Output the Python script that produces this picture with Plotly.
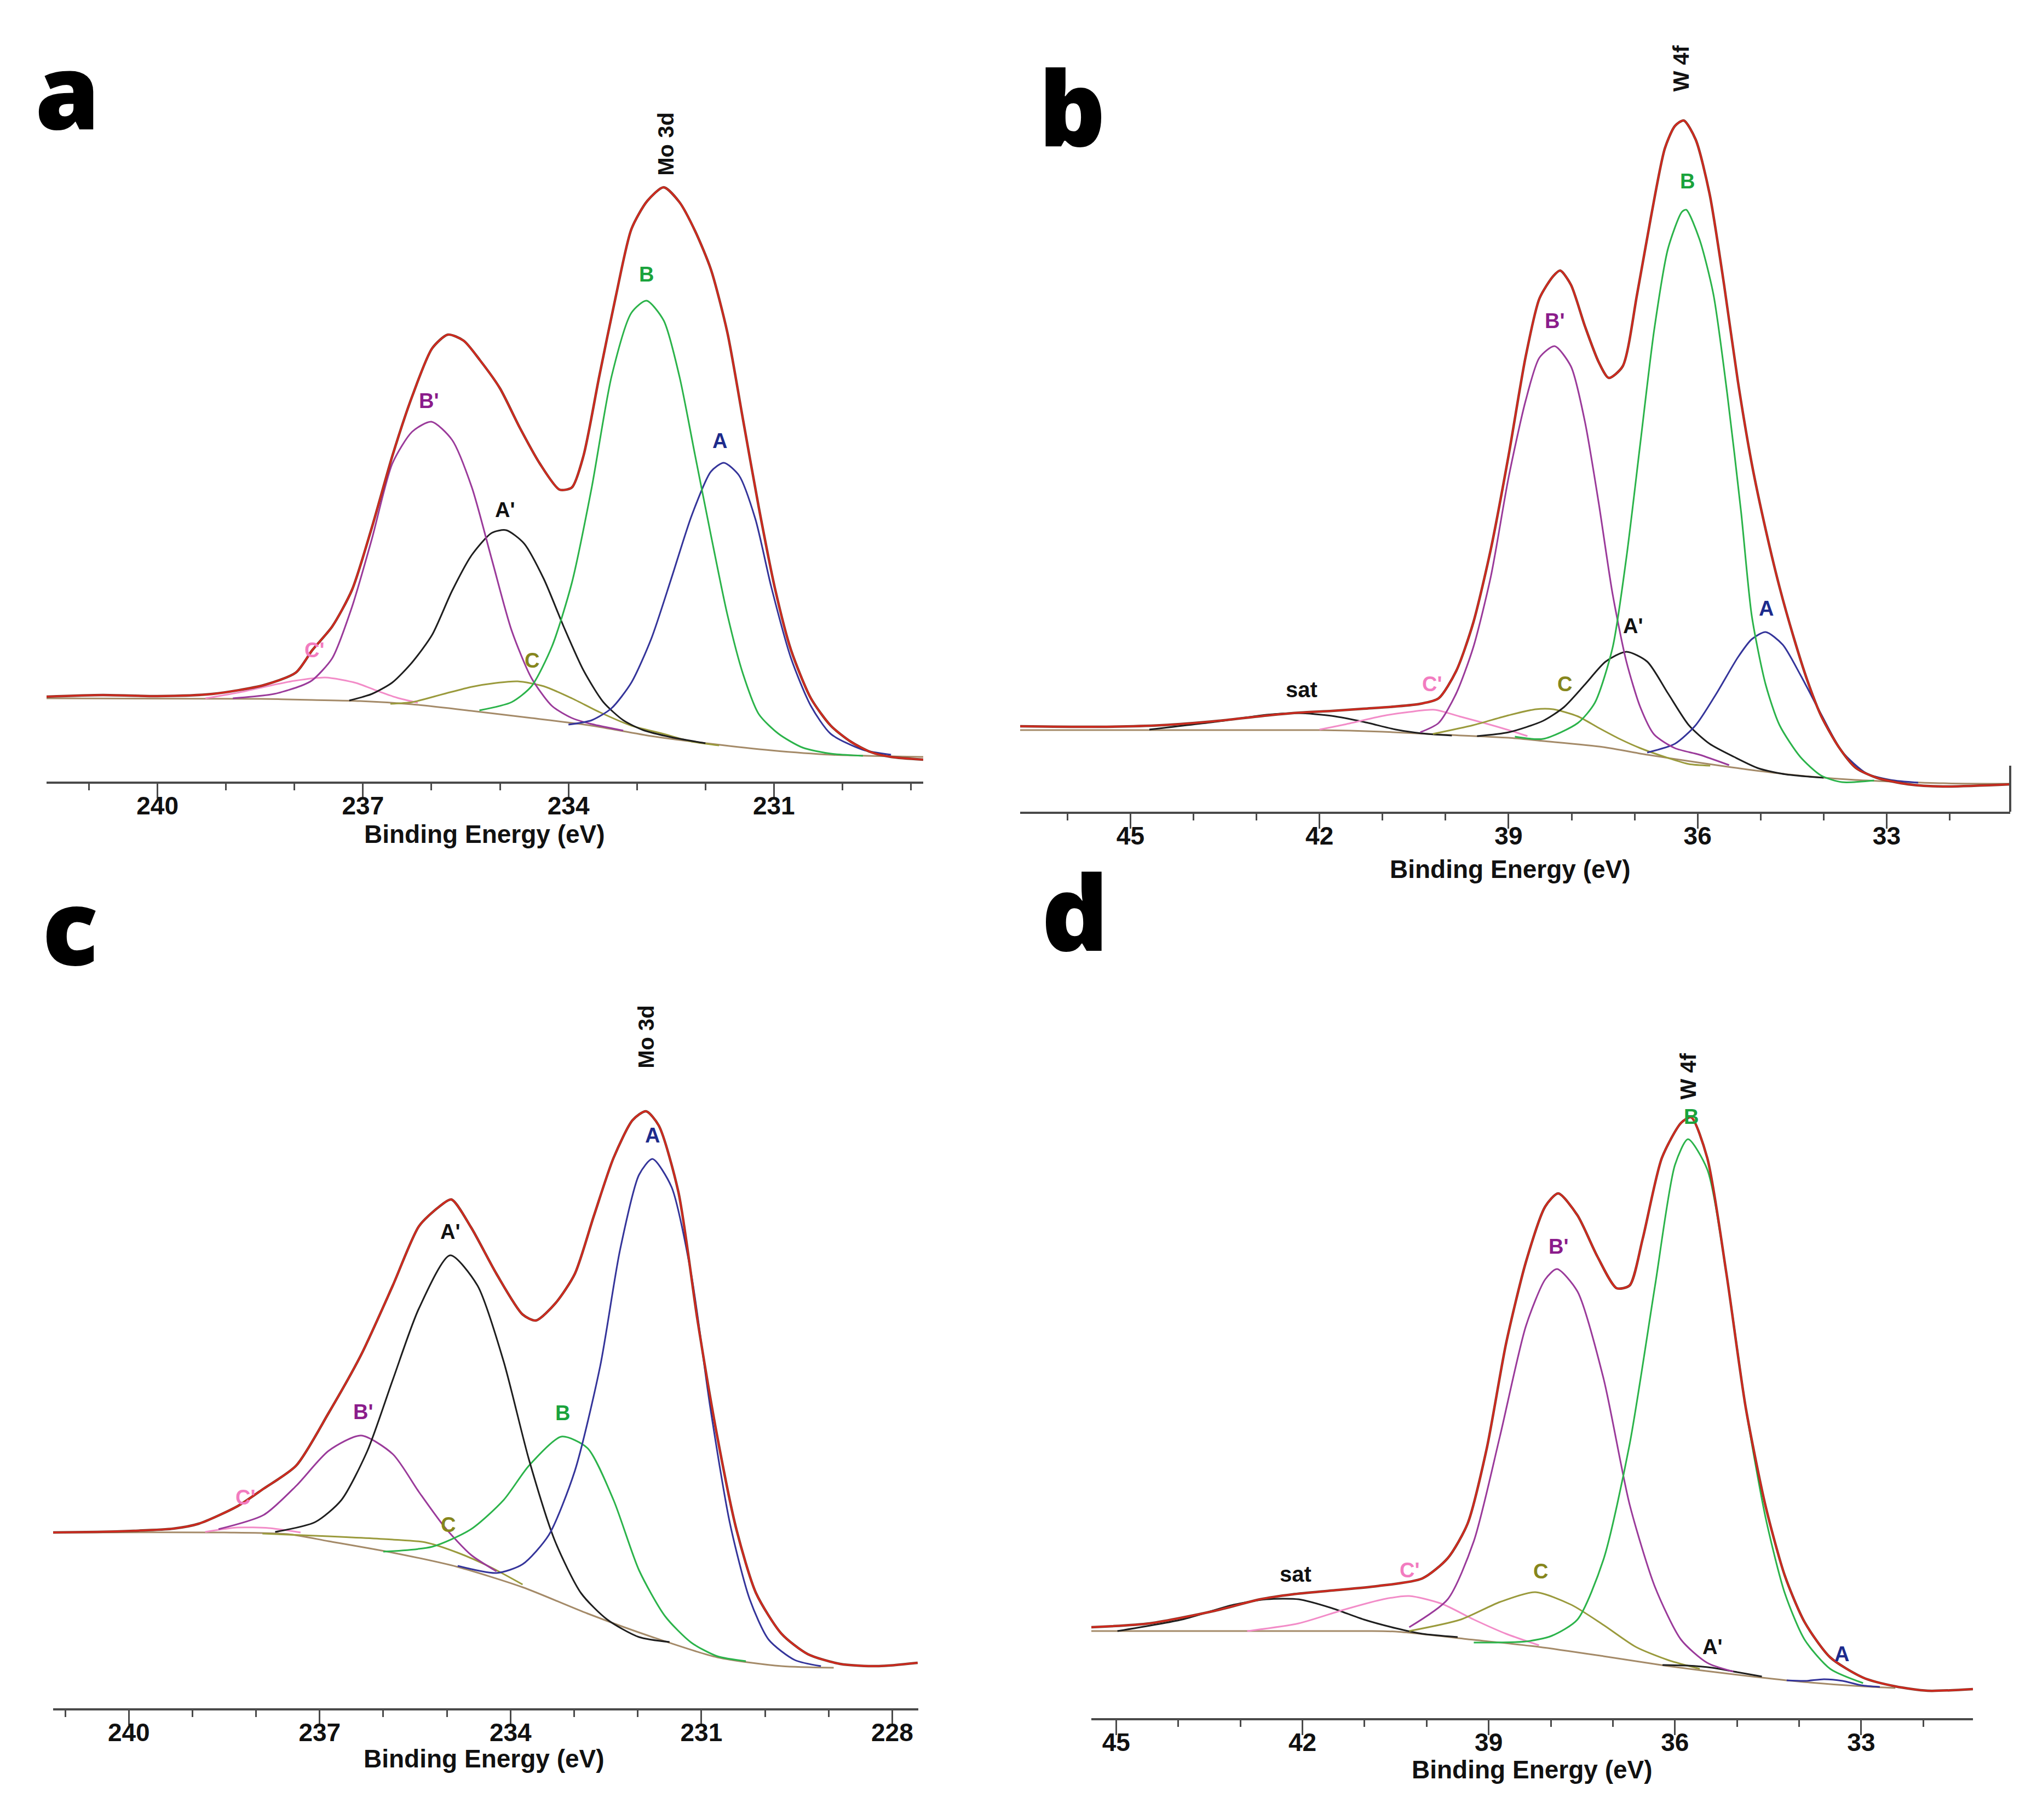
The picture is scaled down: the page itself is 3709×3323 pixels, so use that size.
import plotly.graph_objects as go

W, H = 3709, 3323

# ---------------- Panel a (Mo 3d) ----------------
A_ENV_EV = [241.62, 240.8, 240.0, 239.2, 238.45, 237.98, 237.74, 237.45, 237.16, 236.87, 236.57, 236.28, 235.99, 235.76, 235.53, 235.29, 235.0, 234.71, 234.42, 234.13, 233.95, 233.78, 233.55, 233.31, 233.08, 232.85, 232.61, 232.38, 232.15, 231.92, 231.68, 231.45, 231.22, 230.98, 230.75, 230.46, 230.17, 229.88, 229.59, 229.29, 228.82]
A_ENV_I = [155, 158, 156, 160, 176, 199, 240, 283, 350, 464, 595, 704, 791, 816, 805, 769, 718, 646, 581, 533, 537, 595, 740, 885, 1009, 1060, 1085, 1058, 1005, 935, 820, 660, 500, 350, 240, 152, 102, 73, 54, 45, 40]
A_BL_EV = [241.62, 238.5, 237.74, 237.04, 236.28, 235.41, 234.54, 233.66, 232.79, 231.92, 231.04, 230.17, 228.82]
A_BL_I = [152, 151, 149, 147, 141, 129, 116, 102, 83, 69, 57, 49, 45]
A_Bp_EV = [238.9, 238.3, 237.9, 237.74, 237.45, 237.16, 236.87, 236.57, 236.28, 236.0, 235.7, 235.41, 235.12, 234.83, 234.54, 234.24, 233.95, 233.66, 233.2]
A_Bp_I = [152, 160, 175, 185, 225, 319, 443, 581, 639, 657, 624, 537, 406, 276, 189, 138, 116, 105, 93]
A_Ap_EV = [237.2, 236.87, 236.57, 236.28, 235.99, 235.7, 235.41, 235.12, 234.91, 234.65, 234.36, 234.07, 233.78, 233.49, 233.2, 232.91, 232.5, 232.0]
A_Ap_I = [148, 160, 181, 218, 268, 348, 414, 454, 459, 435, 370, 283, 203, 145, 112, 94, 81, 70]
A_B_EV = [235.3, 234.83, 234.54, 234.24, 233.95, 233.66, 233.37, 233.08, 232.86, 232.61, 232.38, 232.15, 231.92, 231.68, 231.45, 231.22, 230.93, 230.58, 230.17, 229.7]
A_B_I = [130, 145, 174, 247, 363, 537, 740, 856, 878, 842, 740, 595, 450, 305, 196, 123, 87, 62, 51, 47]
A_A_EV = [234.0, 233.66, 233.37, 233.08, 232.79, 232.5, 232.2, 231.92, 231.73, 231.51, 231.27, 231.04, 230.75, 230.46, 230.17, 229.7, 229.29]
A_A_I = [104, 112, 134, 181, 261, 370, 486, 566, 582, 559, 479, 356, 225, 138, 87, 58, 49]
A_C_EV = [236.6, 236.28, 235.82, 235.41, 235.06, 234.74, 234.36, 233.95, 233.55, 233.08, 232.61, 232.2, 231.8]
A_C_I = [142, 145, 160, 173, 180, 183, 174, 152, 127, 102, 87, 73, 66]
A_Cp_EV = [239.3, 238.8, 238.4, 238.0, 237.55, 237.1, 236.8, 236.5, 236.2]
A_Cp_I = [152, 163, 174, 184, 190, 180, 166, 153, 144]

# ---------------- Panel b (W 4f) ----------------
B_ENV_EV = [46.75, 45.5, 44.5, 43.6, 42.8, 42.3, 41.8, 41.3, 40.8, 40.4, 40.11, 39.83, 39.56, 39.28, 39.0, 38.73, 38.51, 38.29, 38.18, 38.01, 37.79, 37.57, 37.41, 37.19, 36.96, 36.74, 36.52, 36.36, 36.22, 36.03, 35.81, 35.58, 35.36, 35.14, 34.92, 34.7, 34.48, 34.26, 34.04, 33.76, 33.49, 33.16, 32.66, 32.11, 31.04]
B_ENV_I = [156, 155, 158, 166, 176, 181, 184, 188, 192, 197, 207, 257, 345, 480, 650, 830, 937, 978, 988, 962, 887, 821, 792, 813, 945, 1086, 1211, 1252, 1262, 1227, 1128, 962, 785, 635, 515, 410, 320, 240, 175, 118, 80, 62, 50, 46, 50]
B_BL_EV = [46.75, 42.0, 41.0, 40.11, 39.0, 38.45, 37.5, 36.8, 36.0, 35.14, 34.3, 33.5, 32.1, 31.04]
B_BL_I = [149, 149, 146, 141, 135, 129, 118, 104, 90, 76, 65, 58, 52, 51]
B_Bp_EV = [40.4, 40.11, 39.83, 39.56, 39.28, 39.0, 38.73, 38.51, 38.27, 38.01, 37.79, 37.57, 37.35, 37.13, 36.91, 36.69, 36.36, 35.97, 35.5]
B_Bp_I = [145, 162, 216, 300, 430, 610, 750, 829, 850, 813, 713, 564, 398, 274, 191, 141, 116, 104, 85]
B_B_EV = [38.9, 38.45, 37.9, 37.63, 37.35, 37.13, 36.91, 36.69, 36.47, 36.25, 36.18, 35.97, 35.75, 35.53, 35.31, 35.14, 34.92, 34.7, 34.37, 34.04, 33.71, 33.2]
B_B_I = [137, 133, 162, 199, 299, 464, 672, 879, 1028, 1095, 1099, 1045, 945, 763, 547, 357, 232, 158, 100, 66, 54, 57]
B_Ap_EV = [39.5, 39.0, 38.45, 38.12, 37.79, 37.46, 37.13, 36.8, 36.47, 36.14, 35.81, 35.42, 35.03, 34.59, 34.0]
B_Ap_I = [138, 145, 166, 191, 232, 274, 292, 274, 216, 158, 124, 100, 79, 68, 62]
B_A_EV = [36.8, 36.36, 36.03, 35.7, 35.36, 35.14, 34.92, 34.65, 34.37, 34.04, 33.71, 33.32, 32.94, 32.5]
B_A_I = [108, 124, 158, 216, 282, 315, 328, 305, 250, 178, 110, 70, 58, 53]
B_C_EV = [40.2, 39.56, 39.0, 38.57, 38.29, 37.9, 37.57, 37.24, 36.91, 36.52, 36.14, 35.8]
B_C_I = [142, 158, 176, 187, 187, 174, 153, 133, 116, 100, 87, 84]
B_Cp_EV = [42.0, 41.61, 40.99, 40.58, 40.17, 39.78, 39.39, 39.0, 38.7]
B_Cp_I = [150, 159, 175, 182, 186, 174, 162, 149, 138]
B_SAT_EV = [44.7, 43.66, 42.84, 42.33, 41.81, 41.3, 40.79, 40.38, 39.9]
B_SAT_I = [150, 164, 177, 180, 175, 164, 150, 143, 139]

# ---------------- Panel c (Mo 3d) ----------------
C_ENV_EV = [241.19, 240.5, 239.92, 239.3, 238.9, 238.29, 237.88, 237.37, 236.86, 236.35, 235.85, 235.44, 235.13, 234.93, 234.62, 234.22, 233.81, 233.6, 233.29, 232.99, 232.69, 232.38, 232.08, 231.87, 231.67, 231.36, 231.06, 230.75, 230.45, 230.14, 229.74, 229.33, 228.82, 228.21, 227.6]
C_ENV_I = [321, 322, 324, 328, 337, 369, 401, 443, 539, 645, 772, 880, 915, 929, 878, 793, 719, 708, 740, 793, 899, 1005, 1074, 1090, 1064, 942, 708, 496, 327, 210, 136, 99, 81, 77, 83]
C_BL_EV = [241.19, 238.5, 237.5, 236.86, 235.85, 234.83, 233.81, 232.79, 231.77, 230.75, 229.74, 228.92]
C_BL_I = [321, 321, 318, 305, 284, 258, 221, 173, 130, 93, 77, 74]
C_A_EV = [234.83, 234.22, 233.81, 233.4, 232.99, 232.59, 232.28, 231.98, 231.77, 231.47, 231.16, 230.86, 230.55, 230.24, 229.94, 229.53, 229.12]
C_A_I = [260, 247, 263, 316, 433, 625, 836, 974, 1003, 952, 793, 549, 337, 199, 125, 88, 77]
C_B_EV = [236.0, 235.23, 234.62, 234.11, 233.71, 233.2, 232.79, 232.38, 231.98, 231.57, 231.16, 230.75, 230.3]
C_B_I = [286, 295, 327, 380, 443, 496, 475, 380, 252, 168, 120, 95, 86]
C_Bp_EV = [238.59, 237.88, 237.37, 236.86, 236.35, 235.85, 235.44, 235.03, 234.62, 234.22]
C_Bp_I = [327, 353, 406, 470, 498, 464, 395, 330, 280, 250]
C_Ap_EV = [237.7, 237.07, 236.66, 236.25, 235.85, 235.44, 234.95, 234.52, 234.11, 233.71, 233.3, 232.89, 232.48, 231.98, 231.5]
C_Ap_I = [322, 340, 380, 470, 600, 730, 827, 772, 634, 454, 305, 210, 162, 130, 121]
C_C_EV = [237.9, 236.86, 235.85, 235.34, 234.83, 234.32, 233.81]
C_C_I = [319, 314, 308, 303, 284, 258, 226]
C_Cp_EV = [238.8, 238.3, 237.8, 237.3]
C_Cp_I = [322, 330, 329, 321]

# ---------------- Panel d (W 4f) ----------------
D_ENV_EV = [45.4, 44.46, 43.41, 42.68, 42.16, 41.53, 40.8, 40.07, 39.66, 39.34, 39.03, 38.72, 38.4, 38.09, 37.88, 37.57, 37.25, 36.94, 36.73, 36.52, 36.21, 35.9, 35.74, 35.48, 35.17, 34.86, 34.54, 34.23, 33.91, 33.5, 32.97, 32.45, 31.93, 31.2]
D_ENV_I = [166, 173, 196, 217, 226, 233, 241, 255, 292, 355, 493, 684, 833, 934, 958, 918, 843, 785, 790, 875, 1023, 1087, 1097, 1023, 811, 567, 387, 260, 175, 111, 74, 58, 50, 53]
D_BL_EV = [45.4, 41.0, 40.49, 39.24, 38.19, 37.15, 36.11, 35.06, 34.02, 32.97, 32.45]
D_BL_I = [159, 159, 158, 143, 130, 113, 95, 80, 67, 58, 55]
D_B_EV = [39.24, 38.4, 37.99, 37.57, 37.15, 36.73, 36.32, 36.0, 35.79, 35.48, 35.17, 34.86, 34.54, 34.23, 33.91, 33.5, 32.97]
D_B_I = [138, 140, 150, 180, 290, 500, 790, 1010, 1057, 1002, 811, 567, 366, 228, 143, 90, 64]
D_Bp_EV = [40.28, 39.66, 39.24, 38.82, 38.4, 38.09, 37.9, 37.57, 37.15, 36.73, 36.32, 35.9, 35.48, 35.06]
D_Bp_I = [166, 217, 323, 514, 716, 801, 820, 779, 620, 390, 239, 143, 101, 85]
D_C_EV = [40.28, 39.45, 38.82, 38.25, 37.67, 37.15, 36.63, 36.11, 35.6]
D_C_I = [159, 180, 212, 230, 207, 170, 130, 106, 90]
D_Cp_EV = [42.89, 42.06, 41.33, 40.7, 40.28, 39.76, 39.24, 38.72, 38.19]
D_Cp_I = [159, 173, 198, 217, 223, 209, 180, 154, 133]
D_SAT_EV = [44.98, 43.94, 43.11, 42.58, 42.06, 41.53, 41.01, 40.49, 40.07, 39.5]
D_SAT_I = [159, 180, 207, 217, 217, 201, 180, 164, 154, 148]
D_Ap_EV = [36.2, 35.8, 35.4, 35.0, 34.6]
D_Ap_I = [97, 96, 92, 84, 76]
D_A_EV = [34.2, 33.9, 33.6, 33.3, 33.0, 32.7]
D_A_I = [69, 68, 71, 68, 60, 57]

# peak labels: (text, eV, height)
A_LABELS = [("B", 232.86, 926), ("A", 231.79, 622), ("B'", 236.04, 695), ("A'", 234.93, 496), ("C", 234.53, 221), ("C'", 237.71, 240)]
B_LABELS = [("B", 36.16, 1151), ("B'", 38.27, 896), ("A'", 37.03, 339), ("A", 34.91, 371), ("C", 38.11, 233), ("C'", 40.22, 233), ("sat", 42.28, 223)]
C_LABELS = [("A", 231.77, 1046), ("A'", 234.95, 870), ("B'", 236.32, 541), ("B", 233.18, 539), ("C", 234.98, 335), ("C'", 238.17, 385)]
D_LABELS = [("B", 35.74, 1098), ("B'", 37.88, 861), ("C", 38.16, 268), ("C'", 40.28, 270), ("sat", 42.11, 263), ("A'", 35.4, 130), ("A", 33.31, 117)]
TITLES = [("Mo 3d", 232.58, 1164), ("W 4f", 36.26, 1357), ("Mo 3d", 231.87, 1226), ("W 4f", 35.79, 1172)]

LINE_COL = {"A": "#34349a", "A'": "#1e1e1e", "B": "#2bb34a", "B'": "#9a3a9a", "C": "#9a9a3c",
            "C'": "#f28cc8", "sat": "#1e1e1e", "bl": "#a48a68", "env": "#e0281f", "fit": "#8c3324"}
TXT_COL = {"A": "#1d2b8c", "A'": "#111111", "B": "#1aa33c", "B'": "#8b1c8b", "C": "#86861c",
           "C'": "#f27cc0", "sat": "#111111"}

# geometry in pixels of the 3709x3323 canvas
PANELS = [
    dict(ax="x", ay="y", x0=77, x1=1678, yax=1419, top=100, rng=[241.62, 228.82], tick0=240),
    dict(ax="x2", ay="y2", x0=1855, x1=3663, yax=1474, top=40, rng=[46.75, 31.04], tick0=45),
    dict(ax="x3", ay="y3", x0=89, x1=1669, yax=3111, top=1760, rng=[241.19, 227.59], tick0=240),
    dict(ax="x4", ay="y4", x0=1985, x1=3595, yax=3129, top=1760, rng=[45.40, 31.20], tick0=45),
]

fig = go.Figure()


def add_line(p, xs, ys, key, width=3):
    fig.add_trace(go.Scatter(x=xs, y=ys, mode="lines", xaxis=p["ax"], yaxis=p["ay"],
                             line=dict(color=LINE_COL[key], width=width, shape="spline", smoothing=0.7),
                             showlegend=False, hoverinfo="skip"))


pa, pb, pc, pd = PANELS
# panel a
add_line(pa, A_BL_EV, A_BL_I, "bl")
add_line(pa, A_Cp_EV, A_Cp_I, "C'")
add_line(pa, A_C_EV, A_C_I, "C")
add_line(pa, A_Ap_EV, A_Ap_I, "A'")
add_line(pa, A_Bp_EV, A_Bp_I, "B'")
add_line(pa, A_A_EV, A_A_I, "A")
add_line(pa, A_B_EV, A_B_I, "B")
add_line(pa, A_ENV_EV, A_ENV_I, "fit", 4.5)
add_line(pa, A_ENV_EV, A_ENV_I, "env", 2.2)
# panel b
add_line(pb, B_BL_EV, B_BL_I, "bl")
add_line(pb, B_SAT_EV, B_SAT_I, "sat")
add_line(pb, B_Cp_EV, B_Cp_I, "C'")
add_line(pb, B_C_EV, B_C_I, "C")
add_line(pb, B_Ap_EV, B_Ap_I, "A'")
add_line(pb, B_A_EV, B_A_I, "A")
add_line(pb, B_Bp_EV, B_Bp_I, "B'")
add_line(pb, B_B_EV, B_B_I, "B")
add_line(pb, B_ENV_EV, B_ENV_I, "fit", 4.5)
add_line(pb, B_ENV_EV, B_ENV_I, "env", 2.2)
# panel c
add_line(pc, C_BL_EV, C_BL_I, "bl")
add_line(pc, C_Cp_EV, C_Cp_I, "C'")
add_line(pc, C_C_EV, C_C_I, "C")
add_line(pc, C_Bp_EV, C_Bp_I, "B'")
add_line(pc, C_B_EV, C_B_I, "B")
add_line(pc, C_Ap_EV, C_Ap_I, "A'")
add_line(pc, C_A_EV, C_A_I, "A")
add_line(pc, C_ENV_EV, C_ENV_I, "fit", 4.5)
add_line(pc, C_ENV_EV, C_ENV_I, "env", 2.2)
# panel d
add_line(pd, D_BL_EV, D_BL_I, "bl")
add_line(pd, D_SAT_EV, D_SAT_I, "sat")
add_line(pd, D_Cp_EV, D_Cp_I, "C'")
add_line(pd, D_C_EV, D_C_I, "C")
add_line(pd, D_Ap_EV, D_Ap_I, "A'")
add_line(pd, D_A_EV, D_A_I, "A")
add_line(pd, D_Bp_EV, D_Bp_I, "B'")
add_line(pd, D_B_EV, D_B_I, "B")
add_line(pd, D_ENV_EV, D_ENV_I, "fit", 4.5)
add_line(pd, D_ENV_EV, D_ENV_I, "env", 2.2)

FONT = "Liberation Sans, Arial, sans-serif"
layout = dict(width=W, height=H, margin=dict(l=0, r=0, t=0, b=0),
              paper_bgcolor="white", plot_bgcolor="white")
annotations = []
for i, p in enumerate(PANELS):
    suf = "" if i == 0 else str(i + 1)
    layout["xaxis" + suf] = dict(
        domain=[p["x0"] / W, p["x1"] / W], range=p["rng"], autorange=False,
        anchor="y" + suf, showgrid=False, zeroline=False, showline=True,
        linecolor="#4a4a4a", linewidth=4, ticks="outside", ticklen=27, tickwidth=3,
        tickcolor="#4a4a4a", tick0=p["tick0"], dtick=3, ticklabelstandoff=-26,
        tickfont=dict(family=FONT, size=46, color="#111111", weight="bold"),
        minor=dict(dtick=1, tick0=p["tick0"], ticks="outside", ticklen=12, tickwidth=3, tickcolor="#4a4a4a"),
        fixedrange=True)
    layout["yaxis" + suf] = dict(
        domain=[1 - p["yax"] / H, 1 - p["top"] / H], range=[0, p["yax"] - p["top"]],
        anchor="x" + suf, visible=False, showgrid=False, zeroline=False, fixedrange=True)

for p, labels in zip(PANELS, [A_LABELS, B_LABELS, C_LABELS, D_LABELS]):
    for txt, ev, h in labels:
        annotations.append(dict(x=ev, y=h, xref=p["ax"], yref=p["ay"], text=txt, showarrow=False,
                                font=dict(family=FONT, size=40 if txt == "sat" else 38,
                                          color=TXT_COL[txt], weight="bold"),
                                xanchor="center", yanchor="middle"))
for p, (txt, ev, h) in zip(PANELS, TITLES):
    annotations.append(dict(x=ev, y=h, xref=p["ax"], yref=p["ay"], text=txt, showarrow=False,
                            textangle=-90, font=dict(family=FONT, size=40, color="#111111", weight="bold"),
                            xanchor="center", yanchor="middle"))

# axis titles
for xc, yc in [(877, 1515), (2750, 1579), (876, 3203), (2790, 3223)]:
    annotations.append(dict(x=xc / W, y=1 - yc / H, xref="paper", yref="paper",
                            text="Binding Energy (eV)", showarrow=False,
                            font=dict(family=FONT, size=46, color="#111111", weight="bold"),
                            xanchor="center", yanchor="middle"))

# panel letters
for letter, xc, yc in [("a", 115, 155), ("b", 1950, 185), ("c", 120, 1680), ("d", 1955, 1655)]:
    annotations.append(dict(x=xc / W, y=1 - yc / H, xref="paper", yref="paper", text=letter,
                            showarrow=False, font=dict(family="Open Sans, DejaVu Sans, sans-serif",
                                                       size=190, color="#000000", weight=800),
                            xanchor="center", yanchor="middle"))

layout["annotations"] = annotations
layout["shapes"] = [dict(type="line", xref="paper", yref="paper", x0=3663 / W, x1=3663 / W,
                         y0=1 - 1474 / H, y1=1 - 1390 / H, line=dict(color="#4a4a4a", width=4))]
fig.update_layout(**layout)
fig.write_html("out.html")
